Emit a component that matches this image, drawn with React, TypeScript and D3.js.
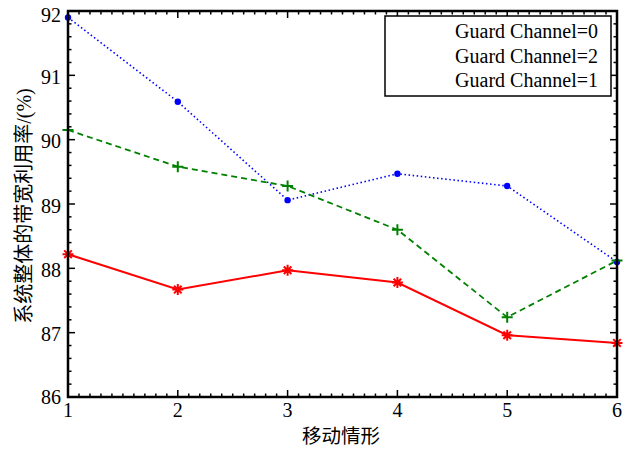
import React from "react";
import * as d3 from "d3";

const xValues = [1, 2, 3, 4, 5, 6];
const gc0 = [91.9, 90.59, 89.06, 89.47, 89.28, 88.1];
const gc2 = [90.15, 89.58, 89.28, 88.6, 87.24, 88.12];
const gc1 = [88.22, 87.67, 87.97, 87.78, 86.96, 86.84];
const legendLabels = ["Guard Channel=0", "Guard Channel=2", "Guard Channel=1"];
const xTicks = [1, 2, 3, 4, 5, 6];
const yTicks = [86, 87, 88, 89, 90, 91, 92];
const xTitle = "移动情形";
const yTitle = "系统整体的带宽利用率/(%)";

const W = 628, H = 449;
const L = 68, R = 617, T = 11, B = 397;
const FONT = "'Liberation Serif', 'Times New Roman', serif";
const CJK = "'Liberation Serif', 'Noto Sans CJK SC', serif";

export default function App() {
  const x = d3.scaleLinear().domain([1, 6]).range([L, R]);
  const y = d3.scaleLinear().domain([86, 92]).range([B, T]);
  const line = d3.line<number>().x((_, i) => x(xValues[i])).y((d) => y(d));

  const xMinor = d3.range(10, 61).map((v) => v / 10).filter((v) => Math.abs(v - Math.round(v)) > 1e-6);
  const yMinor = d3.range(430, 461).map((v) => v / 5).filter((v) => Math.abs(v - Math.round(v)) > 1e-6);

  const series = [
    { data: gc0, color: "#0000ff", dash: "1.5,2.6", width: 1.6, marker: "dot" },
    { data: gc2, color: "#008000", dash: "6,4", width: 1.8, marker: "plus" },
    { data: gc1, color: "#ff0000", dash: "", width: 2, marker: "star" },
  ];

  const marker = (kind: string, cx: number, cy: number, color: string, key: string) => {
    if (kind === "dot") return <circle key={key} cx={cx} cy={cy} r={3.2} fill={color} />;
    const s = 5.5;
    const d =
      kind === "plus"
        ? `M${cx - s},${cy}H${cx + s}M${cx},${cy - s}V${cy + s}`
        : `M${cx - s},${cy}H${cx + s}M${cx},${cy - s}V${cy + s}M${cx - 3.8},${cy - 3.8}L${cx + 3.8},${cy + 3.8}M${cx - 3.8},${cy + 3.8}L${cx + 3.8},${cy - 3.8}`;
    return <path key={key} d={d} stroke={color} strokeWidth={2} fill="none" />;
  };

  const labelOffset = (t: number) => (t === 92 ? 11 : t === 86 ? 6.5 : 8.5);

  return (
    <svg width={W} height={H} style={{ position: "absolute", left: 0, top: 0, background: "#fff" }}>
      <rect x={0} y={0} width={W} height={H} fill="#fff" />
      <defs>
        <clipPath id="plot">
          <rect x={L - 6} y={T - 6} width={R - L + 12} height={B - T + 12} />
        </clipPath>
      </defs>
      {/* ticks */}
      <g stroke="#000" strokeWidth={1.5}>
        {xTicks.map((t) => (
          <g key={"xt" + t}>
            <line x1={x(t)} x2={x(t)} y1={B} y2={B - 7} />
            <line x1={x(t)} x2={x(t)} y1={T} y2={T + 7} />
          </g>
        ))}
        {xMinor.map((t) => (
          <g key={"xm" + t}>
            <line x1={x(t)} x2={x(t)} y1={B} y2={B - 3.5} />
            <line x1={x(t)} x2={x(t)} y1={T} y2={T + 3.5} />
          </g>
        ))}
        {yTicks.map((t) => (
          <g key={"yt" + t}>
            <line x1={L} x2={L + 7} y1={y(t)} y2={y(t)} />
            <line x1={R} x2={R - 7} y1={y(t)} y2={y(t)} />
          </g>
        ))}
        {yMinor.map((t) => (
          <g key={"ym" + t}>
            <line x1={L} x2={L + 3.5} y1={y(t)} y2={y(t)} />
            <line x1={R} x2={R - 3.5} y1={y(t)} y2={y(t)} />
          </g>
        ))}
      </g>
      {/* series */}
      <g clipPath="url(#plot)">
        {series.map((s, i) => (
          <g key={"s" + i}>
            <path d={line(s.data) || ""} fill="none" stroke={s.color} strokeWidth={s.width} strokeDasharray={s.dash || undefined} />
            {s.data.map((v, j) => marker(s.marker, x(xValues[j]), y(v), s.color, `m${i}-${j}`))}
          </g>
        ))}
      </g>
      {/* frame */}
      <rect x={L} y={T} width={R - L} height={B - T} fill="none" stroke="#000" strokeWidth={2.5} />
      {/* tick labels */}
      <g fontFamily={FONT} fontSize={20} fill="#000">
        {xTicks.map((t) => (
          <text key={"xl" + t} x={x(t)} y={B + 20} textAnchor="middle">{t}</text>
        ))}
        {yTicks.map((t) => (
          <text key={"yl" + t} x={L - 7} y={y(t) + labelOffset(t)} textAnchor="end">{t}</text>
        ))}
      </g>
      {/* axis titles */}
      <text x={341} y={443} textAnchor="middle" fontFamily={CJK} fontSize={19.5}>{xTitle}</text>
      <text transform={`translate(31,${(T + B) / 2 + 2}) rotate(-90)`} textAnchor="middle" fontFamily={CJK} fontSize={20}>{yTitle}</text>
      {/* legend */}
      <rect x={385} y={16} width={226} height={80} fill="#fff" stroke="#000" strokeWidth={1.5} />
      <g fontFamily={FONT} fontSize={20}>
        {legendLabels.map((l, i) => (
          <text key={"lg" + i} x={598} y={38 + i * 24.5} textAnchor="end">{l}</text>
        ))}
      </g>
    </svg>
  );
}
